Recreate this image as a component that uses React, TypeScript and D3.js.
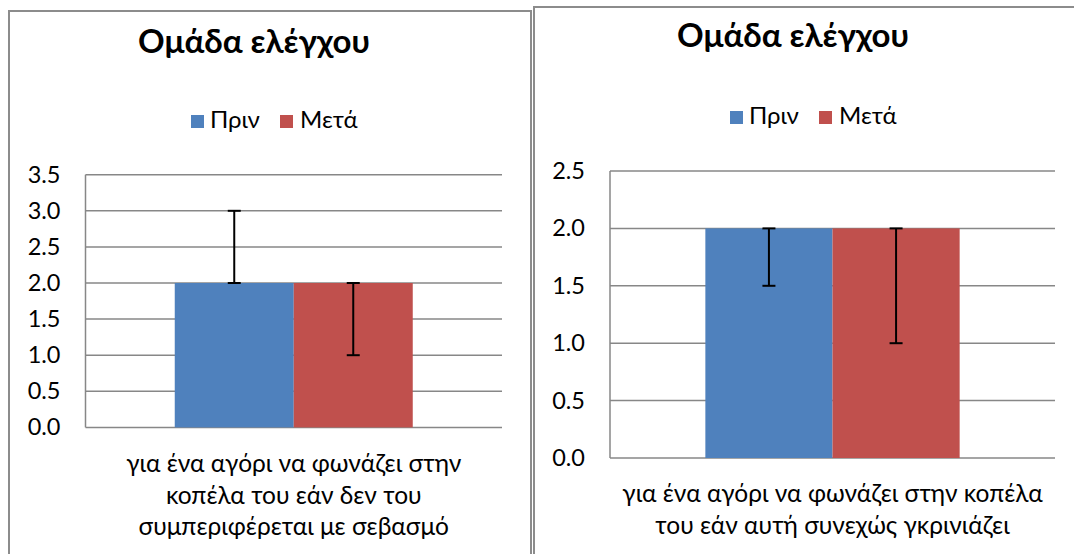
import React from "react";
import * as d3 from "d3";

const title = "Ομάδα ελέγχου";
const seriesNames = ["Πριν", "Μετά"];
const seriesColors = ["#4F81BD", "#C0504D"];

// Left chart
const leftCategory = ["για ένα αγόρι να φωνάζει στην", "κοπέλα του εάν δεν του", "συμπεριφέρεται με σεβασμό"];
const leftValues = [2.0, 2.0];
const leftErrPlus = [1.0, 0];
const leftErrMinus = [0, 1.0];
const leftTicks = [0, 0.5, 1.0, 1.5, 2.0, 2.5, 3.0, 3.5];

// Right chart
const rightCategory = ["για ένα αγόρι να φωνάζει στην κοπέλα", "του εάν αυτή συνεχώς γκρινιάζει"];
const rightValues = [2.0, 2.0];
const rightErrPlus = [0, 0];
const rightErrMinus = [0.5, 1.0];
const rightTicks = [0, 0.5, 1.0, 1.5, 2.0, 2.5];

const FONT = "Lato, 'Open Sans', 'Noto Sans', sans-serif";
const GRID = "#878787";

type PanelProps = {
  frame: { x: number; y: number; w: number; h: number };
  titleX: number;
  titleY: number;
  legendX: number;
  legendY: number;
  plot: { x0: number; x1: number; y0: number; y1: number };
  ticks: number[];
  values: number[];
  errPlus: number[];
  errMinus: number[];
  catLines: string[];
  catY: number;
};

function Panel(p: PanelProps) {
  const { plot } = p;
  const yMax = p.ticks[p.ticks.length - 1];
  const y = d3.scaleLinear().domain([0, yMax]).range([plot.y1, plot.y0]);
  const xCat = d3.scaleBand<string>().domain(["c"]).range([plot.x0, plot.x1]).paddingInner(0).paddingOuter(0.375);
  const xSer = d3.scaleBand<string>().domain(seriesNames).range([xCat("c")!, xCat("c")! + xCat.bandwidth()]).padding(0);
  const cx = (plot.x0 + plot.x1) / 2;
  const fmt = d3.format(".1f");
  return (
    <g>
      <rect x={p.frame.x} y={p.frame.y} width={p.frame.w} height={p.frame.h} fill="#fff" stroke="#8c8c8c" strokeWidth={2} />
      <text x={p.titleX} y={p.titleY} textAnchor="middle" fontFamily={FONT} fontWeight="bold" fontSize={33} fill="#000">
        {title}
      </text>
      {/* legend */}
      <g>
        <rect x={p.legendX} y={p.legendY - 13} width={13} height={13} fill={seriesColors[0]} />
        <text x={p.legendX + 19} y={p.legendY} fontFamily={FONT} fontSize={24} fill="#000">{seriesNames[0]}</text>
        <rect x={p.legendX + 89} y={p.legendY - 13} width={13} height={13} fill={seriesColors[1]} />
        <text x={p.legendX + 109} y={p.legendY} fontFamily={FONT} fontSize={24} fill="#000">{seriesNames[1]}</text>
      </g>
      {/* gridlines */}
      {p.ticks.map((t) => (
        <line key={"g" + t} x1={plot.x0} x2={plot.x1} y1={y(t)} y2={y(t)} stroke={GRID} strokeWidth={1.5} />
      ))}
      <line x1={plot.x0} x2={plot.x0} y1={plot.y0} y2={plot.y1} stroke={GRID} strokeWidth={1.5} />
      {p.ticks.map((t) => (
        <text key={"t" + t} x={plot.x0 - 25} y={y(t) + 8} textAnchor="end" fontFamily={FONT} fontSize={23.5} fill="#000">
          {fmt(t)}
        </text>
      ))}
      {/* bars */}
      {p.values.map((v, i) => (
        <rect key={"b" + i} x={xSer(seriesNames[i])} y={y(v)} width={xSer.bandwidth()} height={y(0) - y(v)} fill={seriesColors[i]} />
      ))}
      {/* error bars */}
      {p.values.map((v, i) => {
        const bx = xSer(seriesNames[i])! + xSer.bandwidth() / 2;
        const hi = v + p.errPlus[i];
        const lo = v - p.errMinus[i];
        return (
          <g key={"e" + i} stroke="#000" strokeWidth={2}>
            <line x1={bx} x2={bx} y1={y(hi)} y2={y(lo)} />
            <line x1={bx - 6.5} x2={bx + 6.5} y1={y(hi)} y2={y(hi)} />
            <line x1={bx - 6.5} x2={bx + 6.5} y1={y(lo)} y2={y(lo)} />
          </g>
        );
      })}
      {p.catLines.map((l, i) => (
        <text key={"c" + i} x={cx} y={p.catY + i * 31.5} textAnchor="middle" fontFamily={FONT} fontSize={24.5} fill="#000">
          {l}
        </text>
      ))}
    </g>
  );
}

export default function App() {
  return (
    <svg width={1074} height={554} style={{ position: "absolute", left: 0, top: 0, background: "#fff" }}>
      <rect x={0} y={0} width={1074} height={554} fill="#fff" />
      <Panel
        frame={{ x: 9, y: 11, w: 522, h: 560 }}
        titleX={254}
        titleY={53}
        legendX={191}
        legendY={128}
        plot={{ x0: 85.5, x1: 502, y0: 174.7, y1: 427.4 }}
        ticks={leftTicks}
        values={leftValues}
        errPlus={leftErrPlus}
        errMinus={leftErrMinus}
        catLines={leftCategory}
        catY={472}
      />
      <Panel
        frame={{ x: 534, y: 7, w: 560, h: 560 }}
        titleX={793}
        titleY={47}
        legendX={730}
        legendY={124}
        plot={{ x0: 610, x1: 1055, y0: 171, y1: 458 }}
        ticks={rightTicks}
        values={rightValues}
        errPlus={rightErrPlus}
        errMinus={rightErrMinus}
        catLines={rightCategory}
        catY={502}
      />
    </svg>
  );
}
